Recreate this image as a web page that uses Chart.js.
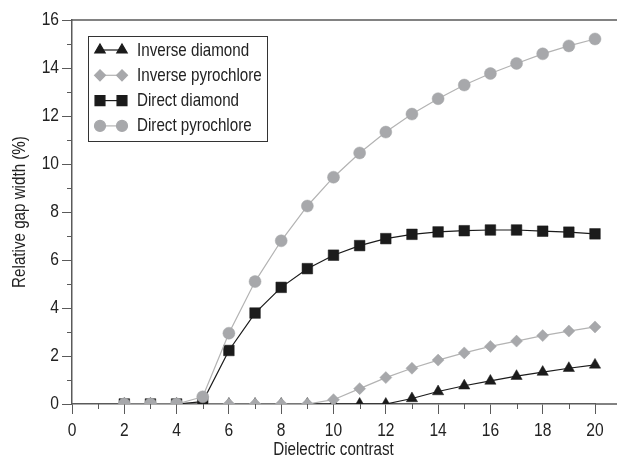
<!DOCTYPE html>
<html>
<head>
<meta charset="utf-8">
<script src="https://cdn.jsdelivr.net/npm/chart.js@4.4.1/dist/chart.umd.min.js"></script>
<style>
html,body{margin:0;padding:0;background:#ffffff;}
#c{display:block;}
</style>
</head>
<body>
<canvas id="c" width="617" height="460"></canvas>
<script>
// ---- data ----
const contrast = [2,3,4,5,6,7,8,9,10,11,12,13,14,15,16,17,18,19,20];
const inverseDiamond    = [0,0,0,0,0,0,0,0,0,0,0,0.23,0.52,0.76,0.96,1.16,1.33,1.49,1.63];
const inversePyrochlore = [0,0,0,0,0,0,0,0,0.18,0.64,1.10,1.49,1.83,2.13,2.40,2.62,2.85,3.04,3.21];
const directDiamond     = [0,0,0,0.10,2.23,3.79,4.86,5.64,6.20,6.60,6.89,7.07,7.17,7.22,7.25,7.25,7.20,7.16,7.09];
const directPyrochlore  = [0,0,0,0.30,2.95,5.10,6.80,8.25,9.45,10.46,11.33,12.08,12.72,13.29,13.77,14.19,14.59,14.92,15.21];
const seriesNames = ['Inverse diamond','Inverse pyrochlore','Direct diamond','Direct pyrochlore'];
const xTicksMajor = [0,2,4,6,8,10,12,14,16,18,20];
const yTicksMajor = [0,2,4,6,8,10,12,14,16];

const FONT = "'Liberation Sans',Arial,sans-serif";
const NARROW = 0.82;   // horizontal condensing, emulates a narrow sans face
const AXIS = '#5a5a5a';
const TEXT = '#222222';
const BLACK = '#1b1b1b';
const GREY = '#a7a8ab';
const GREYLINE = '#b3b3b3';

const pts = vals => contrast.map((c,i)=>({x:c, y:vals[i]}));
const clip = {left:12, top:12, right:14, bottom:0};

const datasets = [
  {label:seriesNames[0], data:pts(inverseDiamond), borderColor:BLACK, backgroundColor:BLACK,
   pointStyle:'triangle', pointRadius:6.5, pointBorderWidth:0.5, borderWidth:1.2, order:4, clip},
  {label:seriesNames[1], data:pts(inversePyrochlore), borderColor:GREYLINE, backgroundColor:GREY,
   pointBorderColor:GREY, pointStyle:'rectRot', pointRadius:6, pointBorderWidth:0.5, borderWidth:1.2, order:3, clip},
  {label:seriesNames[2], data:pts(directDiamond), borderColor:BLACK, backgroundColor:BLACK,
   pointStyle:'rect', pointRadius:7.5, pointBorderWidth:0.5, borderWidth:1.2, order:2, clip},
  {label:seriesNames[3], data:pts(directPyrochlore), borderColor:GREYLINE, backgroundColor:GREY,
   pointBorderColor:GREY, pointStyle:'circle', pointRadius:6, pointBorderWidth:0.5, borderWidth:1.2, order:1, clip}
];

// condensed text rendering: scale glyphs horizontally around their anchor point
const canvas = document.getElementById('c');
const ctx0 = canvas.getContext('2d');
const origFill = ctx0.fillText.bind(ctx0);
ctx0.fillText = function(text, x, y, maxWidth){
  this.save();
  this.translate(x, y);
  this.scale(NARROW, 1);
  if (maxWidth !== undefined) origFill(text, 0, 0, maxWidth / NARROW);
  else origFill(text, 0, 0);
  this.restore();
};

const decor = {
  id:'decor',
  afterDraw(chart){
    const ctx = chart.ctx, a = chart.chartArea;
    const xs = chart.scales.x, ys = chart.scales.y;
    ctx.save();
    ctx.strokeStyle = AXIS;
    ctx.lineWidth = 1.5;
    ctx.beginPath();
    ctx.moveTo(a.left - 1, a.top); ctx.lineTo(chart.width, a.top);
    ctx.moveTo(a.right, a.bottom); ctx.lineTo(chart.width, a.bottom);
    ctx.stroke();
    // minor ticks
    ctx.lineWidth = 1;
    ctx.beginPath();
    for (let v = 1; v < 20; v += 2) {
      const px = Math.round(xs.getPixelForValue(v)) + 0.5;
      ctx.moveTo(px, a.bottom); ctx.lineTo(px, a.bottom + 5);
    }
    for (let v = 1; v < 16; v += 2) {
      const py = Math.round(ys.getPixelForValue(v)) + 0.5;
      ctx.moveTo(a.left - 5, py); ctx.lineTo(a.left, py);
    }
    ctx.stroke();
    // legend
    const bx = 88.5, by = 36.5, bw = 179, bh = 105;
    ctx.fillStyle = '#ffffff';
    ctx.fillRect(bx, by, bw, bh);
    ctx.strokeStyle = '#333333';
    ctx.lineWidth = 1;
    ctx.strokeRect(bx, by, bw, bh);
    ctx.font = '18.5px ' + FONT;
    ctx.textBaseline = 'middle';
    ctx.textAlign = 'left';
    chart.data.datasets.forEach((ds, i) => {
      const y = 50 + i * 25.3;
      ctx.strokeStyle = ds.borderColor;
      ctx.lineWidth = 1.2;
      ctx.beginPath(); ctx.moveTo(100, y); ctx.lineTo(122, y); ctx.stroke();
      const opts = {pointStyle: ds.pointStyle, radius: ds.pointRadius - 0.5, rotation: 0, borderWidth: 0.5};
      ctx.fillStyle = ds.backgroundColor;
      ctx.strokeStyle = ds.pointBorderColor || ds.borderColor;
      Chart.helpers.drawPoint(ctx, opts, 100, y);
      ctx.fillStyle = ds.backgroundColor;
      ctx.strokeStyle = ds.pointBorderColor || ds.borderColor;
      Chart.helpers.drawPoint(ctx, opts, 122, y);
      ctx.fillStyle = TEXT;
      ctx.fillText(ds.label, 137, y + 0.5);
    });
    ctx.restore();
  }
};

new Chart(canvas, {
  type:'line',
  data:{datasets},
  options:{
    responsive:false,
    animation:false,
    devicePixelRatio:1,
    layout:{padding:{top:20, right:22, left:0, bottom:0}},
    plugins:{legend:{display:false}, tooltip:{enabled:false}},
    scales:{
      x:{
        type:'linear', min:0, max:20, z:1,
        afterBuildTicks(s){ s.ticks = xTicksMajor.map(v=>({value:v})); },
        afterFit(s){ s.height = 56; },
        ticks:{color:TEXT, font:{family:FONT, size:19}, padding:5, maxRotation:0, autoSkip:false},
        grid:{display:true, drawOnChartArea:false, drawTicks:true, tickLength:10, color:AXIS, lineWidth:1},
        border:{display:true, color:AXIS, width:1.5},
        title:{display:true, text:'Dielectric contrast', color:TEXT,
               font:{family:FONT, size:18.5, lineHeight:1.1}, padding:{top:0, bottom:0}}
      },
      y:{
        type:'linear', min:0, max:16, z:1,
        afterBuildTicks(s){ s.ticks = yTicksMajor.map(v=>({value:v})); },
        afterFit(s){ s.width = 72; },
        ticks:{color:TEXT, font:{family:FONT, size:19}, padding:3},
        grid:{display:true, drawOnChartArea:false, drawTicks:true, tickLength:10, color:AXIS, lineWidth:1},
        border:{display:true, color:AXIS, width:1.5},
        title:{display:true, text:'Relative gap width (%)', color:TEXT,
               font:{family:FONT, size:18.5, lineHeight:1.2}, padding:{top:9, bottom:0}}
      }
    }
  },
  plugins:[decor]
});
</script>
</body>
</html>
